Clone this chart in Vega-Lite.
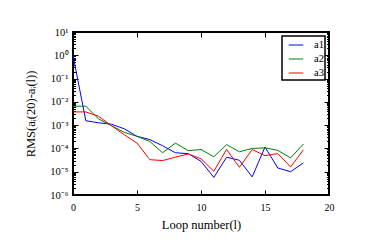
{
  "$schema": "https://vega.github.io/schema/vega-lite/v6.json",
  "width": 256,
  "height": 163,
  "autosize": "none",
  "padding": {"left": 73, "top": 32, "right": 37, "bottom": 51},
  "background": "white",
  "config": {
    "view": {"stroke": "black", "strokeWidth": 2},
    "font": "Liberation Serif",
    "axis": {"domain": false, "grid": false, "tickColor": "black", "tickWidth": 1, "labelColor": "black", "titleColor": "black", "labelFont": "Liberation Serif", "titleFont": "Liberation Serif, DejaVu Serif", "titleFontWeight": "normal"},
    "legend": {"labelFont": "Liberation Serif", "strokeWidth": 1.5}
  },
  "data": {"values": [
    {"l":0,"s":"a1","v":1.0},{"l":1,"s":"a1","v":0.00155},{"l":2,"s":"a1","v":0.00126},{"l":3,"s":"a1","v":0.0011},{"l":4,"s":"a1","v":0.0007},{"l":5,"s":"a1","v":0.00033},{"l":6,"s":"a1","v":0.00024},{"l":7,"s":"a1","v":0.00013},{"l":8,"s":"a1","v":0.000065},{"l":9,"s":"a1","v":0.00006},{"l":10,"s":"a1","v":0.000028},{"l":11,"s":"a1","v":0.0000057},{"l":12,"s":"a1","v":0.000042},{"l":13,"s":"a1","v":0.000031},{"l":14,"s":"a1","v":0.000006},{"l":15,"s":"a1","v":0.000115},{"l":16,"s":"a1","v":0.0000145},{"l":17,"s":"a1","v":0.00001},{"l":18,"s":"a1","v":0.000024},
    {"l":0,"s":"a2","v":0.0065},{"l":1,"s":"a2","v":0.0065},{"l":2,"s":"a2","v":0.00185},{"l":3,"s":"a2","v":0.00095},{"l":4,"s":"a2","v":0.00049},{"l":5,"s":"a2","v":0.00033},{"l":6,"s":"a2","v":0.0002},{"l":7,"s":"a2","v":0.000065},{"l":8,"s":"a2","v":0.00017},{"l":9,"s":"a2","v":0.00008},{"l":10,"s":"a2","v":0.00009},{"l":11,"s":"a2","v":0.000044},{"l":12,"s":"a2","v":0.000145},{"l":13,"s":"a2","v":0.000072},{"l":14,"s":"a2","v":0.0001},{"l":15,"s":"a2","v":0.000105},{"l":16,"s":"a2","v":0.000083},{"l":17,"s":"a2","v":0.000039},{"l":18,"s":"a2","v":0.000155},
    {"l":0,"s":"a3","v":0.0037},{"l":1,"s":"a3","v":0.0037},{"l":2,"s":"a3","v":0.0024},{"l":3,"s":"a3","v":0.00095},{"l":4,"s":"a3","v":0.00039},{"l":5,"s":"a3","v":0.00017},{"l":6,"s":"a3","v":0.000033},{"l":7,"s":"a3","v":0.00003},{"l":8,"s":"a3","v":0.000042},{"l":9,"s":"a3","v":0.000058},{"l":10,"s":"a3","v":0.000036},{"l":11,"s":"a3","v":0.0000105},{"l":12,"s":"a3","v":0.00009},{"l":13,"s":"a3","v":0.0000155},{"l":14,"s":"a3","v":0.00009},{"l":15,"s":"a3","v":0.000049},{"l":16,"s":"a3","v":0.00006},{"l":17,"s":"a3","v":0.000016},{"l":18,"s":"a3","v":0.000087}
  ]},
  "resolve": {"axis": {"x": "independent", "y": "independent"}},
  "layer": [
    {
      "mark": {"type": "line", "strokeWidth": 1, "clip": true},
      "encoding": {
        "x": {"field": "l", "type": "quantitative", "scale": {"domain": [0, 20], "nice": false, "zero": false},
          "axis": {"orient": "bottom", "values": [0, 5, 10, 15, 20], "ticks": false, "tickSize": 0, "labelPadding": 7, "labelFontSize": 10, "title": "Loop number(l)", "titleFontSize": 12.5, "titlePadding": 6, "labelFlush": false}},
        "y": {"field": "v", "type": "quantitative", "scale": {"type": "log", "domain": [0.000001, 10], "nice": false},
          "axis": {"orient": "left", "values": [0.000001, 0.00001, 0.0001, 0.001, 0.01, 0.1, 1, 10], "ticks": false, "tickSize": 0, "labelPadding": 5, "labelFontSize": 10.5, "labelOverlap": false, "labelFlush": false,
            "labelExpr": "['10⁻⁶','10⁻⁵','10⁻⁴','10⁻³','10⁻²','10⁻¹','10⁰','10¹'][round(log(datum.value)/LN10)+6]",
            "title": "RMS(aᵢ(20)-aᵢ(l))", "titleFontSize": 12.5, "titlePadding": 12}},
        "color": {"field": "s", "type": "nominal", "scale": {"domain": ["a1", "a2", "a3"], "range": ["#0000ff", "#008000", "#ff0000"]},
          "legend": {"orient": "top-right", "offset": 4, "title": null, "fillColor": "white", "strokeColor": "black", "padding": 1, "symbolOffset": 5, "symbolType": "stroke", "symbolStrokeWidth": 1, "symbolSize": 210, "labelFontSize": 10.5, "labelOffset": 10, "rowPadding": 0, "labelExpr": "datum.label + '\u00a0\u00a0'"}}
      }
    },
    {
      "mark": {"type": "point", "opacity": 0},
      "encoding": {
        "x": {"field": "l", "type": "quantitative", "axis": {"orient": "top", "values": [5, 10, 15], "labels": false, "tickSize": -5, "title": null}},
        "y": {"field": "v", "type": "quantitative", "axis": {"orient": "right", "values": [0.000001, 0.00001, 0.0001, 0.001, 0.01, 0.1, 1, 10], "labels": false, "tickSize": -5, "title": null}}
      }
    },
    {
      "mark": {"type": "point", "opacity": 0},
      "encoding": {
        "x": {"field": "l", "type": "quantitative", "axis": {"orient": "bottom", "values": [5, 10, 15], "labels": false, "tickSize": -5, "title": null}},
        "y": {"field": "v", "type": "quantitative", "axis": {"orient": "left", "values": [0.000001, 0.00001, 0.0001, 0.001, 0.01, 0.1, 1, 10], "labels": false, "tickSize": -5, "title": null}}
      }
    },
    {
      "mark": {"type": "point", "opacity": 0},
      "encoding": {
        "x": {"field": "l", "type": "quantitative", "axis": null},
        "y": {"field": "v", "type": "quantitative", "axis": {"orient": "left", "labels": false, "tickSize": -2.5, "title": null,
          "values": [0.000002,0.000003,0.000004,0.000005,0.000006,0.000007,0.000008,0.000009,0.00002,0.00003,0.00004,0.00005,0.00006,0.00007,0.00008,0.00009,0.0002,0.0003,0.0004,0.0005,0.0006,0.0007,0.0008,0.0009,0.002,0.003,0.004,0.005,0.006,0.007,0.008,0.009,0.02,0.03,0.04,0.05,0.06,0.07,0.08,0.09,0.2,0.3,0.4,0.5,0.6,0.7,0.8,0.9,2,3,4,5,6,7,8,9]}}
      }
    },
    {
      "mark": {"type": "point", "opacity": 0},
      "encoding": {
        "x": {"field": "l", "type": "quantitative", "axis": null},
        "y": {"field": "v", "type": "quantitative", "axis": {"orient": "right", "labels": false, "tickSize": -2.5, "title": null,
          "values": [0.000002,0.000003,0.000004,0.000005,0.000006,0.000007,0.000008,0.000009,0.00002,0.00003,0.00004,0.00005,0.00006,0.00007,0.00008,0.00009,0.0002,0.0003,0.0004,0.0005,0.0006,0.0007,0.0008,0.0009,0.002,0.003,0.004,0.005,0.006,0.007,0.008,0.009,0.02,0.03,0.04,0.05,0.06,0.07,0.08,0.09,0.2,0.3,0.4,0.5,0.6,0.7,0.8,0.9,2,3,4,5,6,7,8,9]}}
      }
    }
  ]
}
